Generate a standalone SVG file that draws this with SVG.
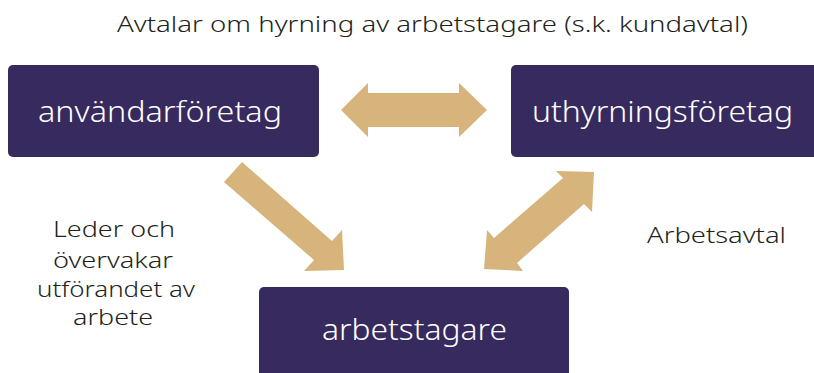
<svg xmlns="http://www.w3.org/2000/svg" width="814" height="373" viewBox="0 0 814 373">
  <style>
    .box { fill: #372A5E; }
    .btxt { fill: #FFFFFF; font-family: "Noto Sans", "Open Sans", sans-serif; font-weight: 300; font-size: 29px; }
    .lbl { fill: #231F20; font-family: "Noto Sans", "Open Sans", sans-serif; font-weight: 300; font-size: 22px; }
    .arr { fill: #D6B47B; }
  </style>
  <rect width="814" height="373" fill="#FFFFFF"/>
  <text class="lbl" x="117" y="32" textLength="631" lengthAdjust="spacingAndGlyphs">Avtalar om hyrning av arbetstagare (s.k. kundavtal)</text>
  <g id="anvandarforetag">
    <rect class="box" x="8" y="65" width="311" height="92" rx="5"/>
    <text class="btxt" x="38" y="122" textLength="244" lengthAdjust="spacingAndGlyphs">användarföretag</text>
  </g>
  <g id="uthyrningsforetag">
    <rect class="box" x="511" y="65" width="310" height="92" rx="5"/>
    <text class="btxt" x="532" y="122" textLength="261" lengthAdjust="spacingAndGlyphs">uthyrningsföretag</text>
  </g>
  <g id="arbetstagare">
    <rect class="box" x="259" y="287" width="310" height="100" rx="5"/>
    <text class="btxt" x="322" y="340" textLength="185" lengthAdjust="spacingAndGlyphs">arbetstagare</text>
  </g>
  <g id="connectors">
    <polygon class="arr" points="341,110 368,83 368,93 459,93 459,83 487,110 459,137 459,127 368,127 368,137"/>
    <polygon class="arr" points="224,182 242,162 332,241 342,230 344,270 304,271 314,260"/>
    <polygon class="arr" points="594,172 592,212 584,204 517,263 523,271 484,269 487,230 494,238 563,178 556,171"/>
  </g>
  <g id="labels">
    <text class="lbl" x="53" y="237" textLength="122" lengthAdjust="spacingAndGlyphs">Leder och</text>
    <text class="lbl" x="53" y="268" textLength="120" lengthAdjust="spacingAndGlyphs">övervakar</text>
    <text class="lbl" x="37" y="297" textLength="158" lengthAdjust="spacingAndGlyphs">utförandet av</text>
    <text class="lbl" x="73" y="325" textLength="80" lengthAdjust="spacingAndGlyphs">arbete</text>
    <text class="lbl" x="647" y="243" textLength="139" lengthAdjust="spacingAndGlyphs">Arbetsavtal</text>
  </g>
</svg>
